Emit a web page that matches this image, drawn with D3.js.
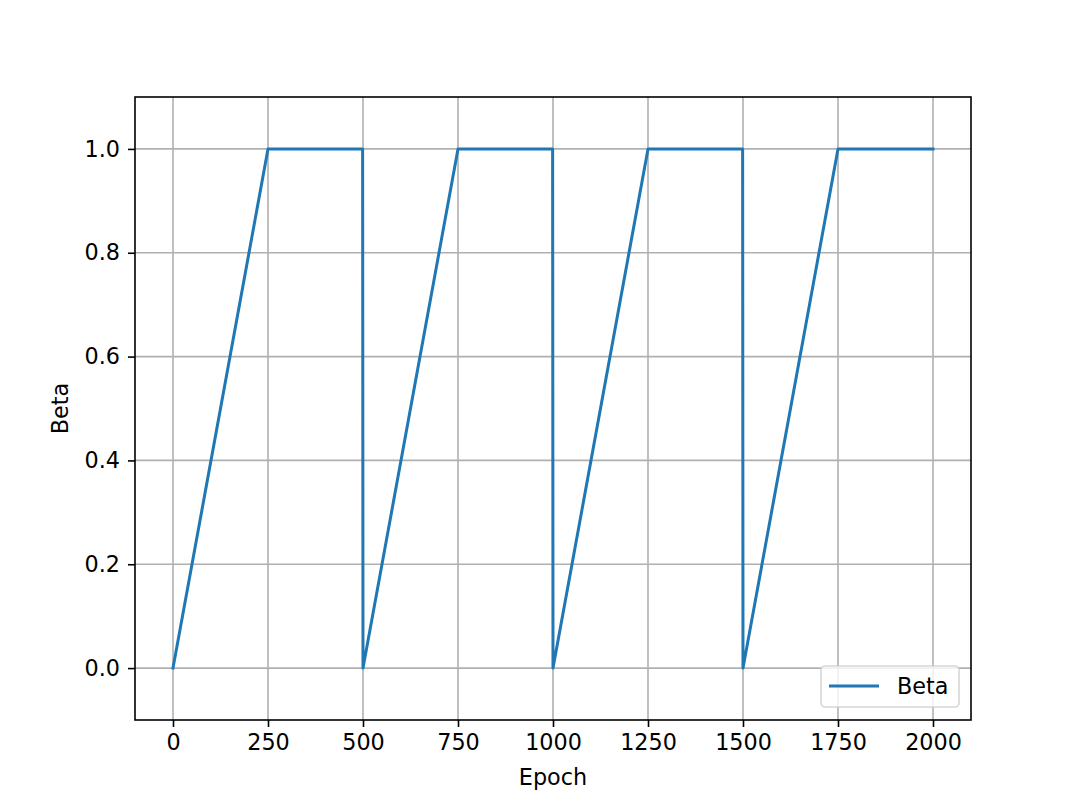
<!DOCTYPE html>
<html lang="en">
<head>
<meta charset="utf-8">
<script src="https://d3js.org/d3.v7.min.js"></script>
<style type="text/css">
body { margin: 0; background: #fff; }
text { font-family: "DejaVu Sans", sans-serif; }
</style>
</head>
<body>
<script type="text/javascript">

// beta schedule corner points (epoch, beta)
var epochs = [0, 250, 499, 500, 750, 999, 1000, 1250, 1499, 1500, 1750, 2000];
var betas  = [0, 1,   1,   0,   1,   1,   0,    1,    1,    0,    1,    1];
var xTicks = [0, 250, 500, 750, 1000, 1250, 1500, 1750, 2000];
var yTicks = [0.0, 0.2, 0.4, 0.6, 0.8, 1.0];
var seriesName = "Beta";

var width = 1079, height = 809;
var mLeft = 135, mRight = 971, mTop = 97, mBottom = 720;
var fontPx = 22.3;

var svg = d3.select("body").append("svg")
	.attr("width", width)
	.attr("height", height);

var x = d3.scaleLinear().domain([-100, 2100]).range([mLeft, mRight]);
var y = d3.scaleLinear().domain([-0.1, 1.1]).range([mBottom, mTop]);

// grid
svg.append("g").selectAll("line").data(xTicks).enter().append("line")
	.attr("x1", d => x(d)).attr("x2", d => x(d))
	.attr("y1", mTop).attr("y2", mBottom)
	.style("stroke", "#b0b0b0").style("stroke-width", 1.6);
svg.append("g").selectAll("line").data(yTicks).enter().append("line")
	.attr("x1", mLeft).attr("x2", mRight)
	.attr("y1", d => y(d)).attr("y2", d => y(d))
	.style("stroke", "#b0b0b0").style("stroke-width", 1.6);

// line
var pts = epochs.map((e, i) => [e, betas[i]]);
svg.append("path")
	.datum(pts)
	.attr("d", d3.line().x(d => x(d[0])).y(d => y(d[1])))
	.style("fill", "none")
	.style("stroke", "#1f77b4")
	.style("stroke-width", 3)
	.style("stroke-linejoin", "round")
	.style("stroke-linecap", "square");

// axes
var xAxis = d3.axisBottom(x).tickValues(xTicks).tickSize(7).tickPadding(7)
	.tickFormat(d3.format("d"));
var yAxis = d3.axisLeft(y).tickValues(yTicks).tickSize(7).tickPadding(8)
	.tickFormat(d3.format(".1f"));

var gx = svg.append("g").attr("transform", "translate(0," + mBottom + ")").call(xAxis);
var gy = svg.append("g").attr("transform", "translate(" + mLeft + ",0)").call(yAxis);
[gx, gy].forEach(function(g) {
	g.select(".domain").remove();
	g.selectAll(".tick line").style("stroke", "#000").style("stroke-width", 1.6);
	g.selectAll(".tick text").style("font-size", fontPx + "px").style("fill", "#000")
		.style("font-family", "'DejaVu Sans', sans-serif");
});

// spines
svg.append("rect")
	.attr("x", mLeft).attr("y", mTop)
	.attr("width", mRight - mLeft).attr("height", mBottom - mTop)
	.style("fill", "none").style("stroke", "#000").style("stroke-width", 1.6);

// labels
svg.append("text")
	.attr("x", (mLeft + mRight) / 2).attr("y", 785)
	.attr("text-anchor", "middle")
	.style("font-size", fontPx + "px")
	.text("Epoch");
svg.append("text")
	.attr("transform", "translate(68," + ((mTop + mBottom) / 2) + ") rotate(-90)")
	.attr("text-anchor", "middle")
	.style("font-size", fontPx + "px")
	.text("Beta");

// legend
var lg = svg.append("g");
lg.append("rect")
	.attr("x", 821).attr("y", 666).attr("width", 138).attr("height", 41)
	.attr("rx", 4)
	.style("fill", "rgba(255,255,255,0.8)")
	.style("stroke", "rgba(204,204,204,0.8)").style("stroke-width", 1.6);
lg.append("line")
	.attr("x1", 829).attr("x2", 879).attr("y1", 686).attr("y2", 686)
	.style("stroke", "#1f77b4").style("stroke-width", 3);
lg.append("text")
	.attr("x", 897).attr("y", 686).attr("dy", "0.35em")
	.style("font-size", fontPx + "px")
	.text(seriesName);

</script>
</body>
</html>
